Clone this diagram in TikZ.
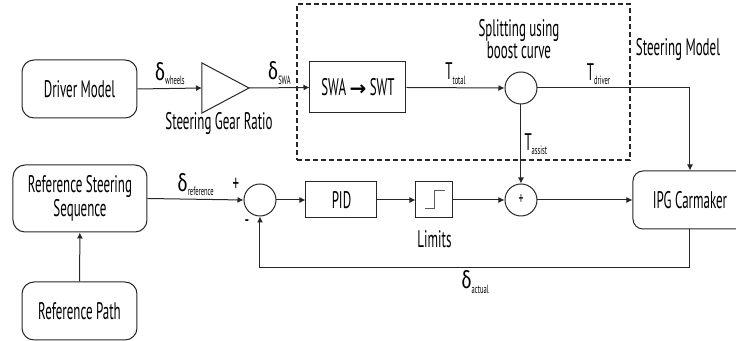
\documentclass[tikz,border=0pt]{standalone}
\usepackage{fontspec}
\setmainfont{PT Sans}[FakeStretch=0.54]
\newfontfamily\grkfont{Fira Sans}[FakeStretch=0.75]
\newfontfamily\symfont{DejaVu Sans}
\usetikzlibrary{arrows.meta,positioning}
\newcommand{\dlt}{{\grkfont δ}}
\newcommand{\sig}[2]{#1\raisebox{-0.35ex}{\fontsize{6}{6}\selectfont #2}}

\begin{document}
\begin{tikzpicture}[
  x=0.5pt, y=-0.5pt,
  font=\fontsize{12}{11}\selectfont,
  line/.style={draw=black!85, line width=0.5pt},
  blk/.style={line, minimum height=18pt, inner sep=0pt},
  rblk/.style={line, rounded corners=6pt, align=center, inner sep=0pt},
  sumc/.style={line, circle, minimum size=16pt, inner sep=0pt},
  arr/.style={line, -{Latex[length=3pt,width=3pt]}},
  lbl/.style={inner sep=1.5pt}
]
  \clip (0,0) rectangle (736,341);

  % Top row
  \node[rblk, minimum width=57.5pt, minimum height=29pt] (driver) at (79.5,89) {Driver Model};
  \coordinate (gain) at (225.5,88);
  \coordinate (gainin) at ([shift={(-23.5,0)}]gain);
  \coordinate (gainout) at ([shift={(23.5,0)}]gain);
  \draw[line] ([shift={(-23.5,-25)}]gain) -- (gainout) -- ([shift={(-23.5,25)}]gain) -- cycle;
  \node (gainlbl) at (219,124) {Steering Gear Ratio};

  % Steering model
  \node[draw=black!85, line width=0.6pt, dash pattern=on 2.5pt off 1.5pt,
        minimum width=166.5pt, minimum height=78pt] (steer) at (463.5,82) {};
  \node (steerlbl) at (678,50) {Steering Model};
  \node[blk, minimum width=48pt, minimum height=25.5pt] (swa) at (358,87.5) {SWA {\symfont\bfseries\fontsize{10}{10}\selectfont →} SWT};
  \node[sumc] (split) at (521,88) {};
  \node[align=center] (splitlbl) at (519,39) {Splitting using\\boost curve};

  % Bottom row
  \node[rblk, minimum width=67pt, minimum height=33.5pt] (refseq) at (80,198.5) {Reference Steering\\Sequence};
  \node[rblk, minimum width=57.5pt, minimum height=29pt] (refpath) at (79.5,311) {Reference Path};
  \node[sumc] (sumerr) at (260,200) {};
  \node at ([shift={(-24,-15)}]sumerr) (plus) {+};
  \node at ([shift={(-13,24)}]sumerr) (minus) {-};
  \node[blk, minimum width=35.5pt] (pid) at (341.5,200) {PID};
  \node[blk, minimum width=18.5pt] (lim) at (434.5,200) {};
  \draw[line, black!65] ([shift={(-9.5,9)}]lim.center) -- ++(10,0) -- ++(0,-18) -- ++(10,0);
  \node (limlbl) at (434.5,239) {Limits};
  \node[sumc, font=\fontsize{9}{9}\selectfont] (sumtq) at (521,200) {+};
  \node[rblk, rounded corners=5pt, minimum width=57pt, minimum height=29pt] (ipg) at (690,200) {IPG Carmaker};

  % Signals
  \draw[arr] (driver.east) -- node[above, lbl] {\sig{\dlt}{wheels}} (gainin);
  \draw[arr] (gainout) -- node[above, lbl] {\sig{\dlt}{SWA}} (swa.west);
  \draw[arr] (swa.east) -- node[above, lbl] {\sig{T}{total}} (split.west);
  \draw[arr] (split.east) -| node[pos=0.2, above, lbl] {\sig{T}{driver}} (ipg.north);
  \draw[arr] (split.south) -- node[right, lbl] {\sig{T}{assist}} (sumtq.north);
  \draw[arr] (refpath) -- (refseq);
  \draw[arr] (refseq.east) -- node[above, lbl] {\sig{\dlt}{reference}} (sumerr.west);
  \draw[arr] (sumerr.east) -- (pid.west);
  \draw[arr] (pid) -- (lim);
  \draw[arr] (lim) -- (sumtq);
  \draw[arr] (sumtq) -- (ipg);
  \draw[arr] (ipg.south) -- ++(0,38) -| node[pos=0.25, below, lbl] {\sig{\dlt}{actual}} (sumerr.south);
\end{tikzpicture}
\end{document}
